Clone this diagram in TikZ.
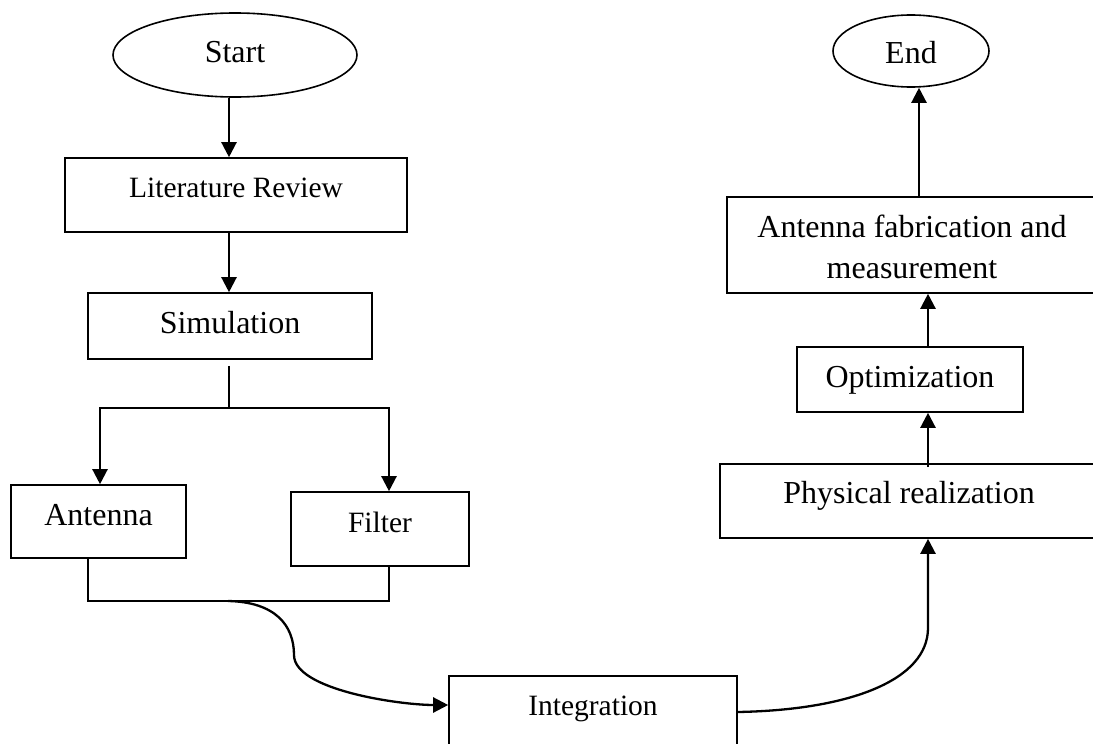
\documentclass[tikz,border=0pt]{standalone}
\usepackage{fontspec}
\setmainfont{Liberation Serif}
\usetikzlibrary{shapes.geometric,arrows.meta}
\begin{document}
\begin{tikzpicture}[x=1pt,y=-1pt,
 box/.style={draw, line width=1.6pt, inner sep=0pt, rectangle},
 oval/.style={draw, ellipse, line width=1.6pt, inner sep=0pt},
 lbl/.style={anchor=base, inner sep=0pt, font=\fontsize{32}{38}\selectfont},
 lbls/.style={anchor=base, inner sep=0pt, font=\fontsize{29.5}{36}\selectfont},
 arr/.style={line width=2.3pt, -{Triangle[length=15pt,width=15pt]}},
 ln/.style={line width=2pt}]
\clip (0,0) rectangle (1093,744);
\fill[white] (0,0) rectangle (1093,744);

% shapes
\node[oval, minimum width=244pt, minimum height=84pt] (start) at (235,55) {};
\node[lbl] (startT) at (235,62) {Start};
\node[box, minimum width=342pt, minimum height=74pt] (lit) at (236,195) {};
\node[lbls] (litT) at (236,197) {Literature Review};
\node[box, minimum width=284pt, minimum height=66pt] (sim) at (230,326) {};
\node[lbl] (simT) at (230,333) {Simulation};
\node[box, minimum width=175pt, minimum height=73pt] (ant) at (98.5,521.5) {};
\node[lbl] (antT) at (98.5,525) {Antenna};
\node[box, minimum width=178pt, minimum height=74pt] (fil) at (380,529) {};
\node[lbls] (filT) at (380,532) {Filter};
\node[box, minimum width=288pt, minimum height=88pt] (int) at (593,720) {};
\node[lbls] (intT) at (593,715) {Integration};
\node[box, minimum width=378pt, minimum height=74pt] (phy) at (909,501) {};
\node[lbl] (phyT) at (909,503) {Physical realization};
\node[box, minimum width=226pt, minimum height=65pt] (opt) at (910,379.5) {};
\node[lbl] (optT) at (910,387) {Optimization};
\node[box, minimum width=371pt, minimum height=96pt] (fab) at (912.5,245) {};
\node[lbl] (fabT1) at (912,237) {Antenna fabrication and};
\node[lbl] (fabT2) at (912,278) {measurement};
\node[oval, minimum width=156pt, minimum height=72pt] (end) at (911,51) {};
\node[lbl] (endT) at (911,63) {End};

\coordinate (split) at (229,408);
\coordinate (merge) at (228,601);

% connectors
\draw[arr] ([xshift=-6pt]start.south) -- ([xshift=-6pt]start.south |- lit.north);
\draw[arr] ([xshift=-7pt]lit.south) -- ([xshift=-7pt]lit.south |- sim.north);
\draw[ln] ([xshift=-1pt,yshift=-6pt]sim.south) -- (split);
\draw[arr] (split) -| ([xshift=1.5pt]ant.north);
\draw[arr] (split) -| ([xshift=9pt]fil.north);
\draw[ln] ([xshift=-10.5pt]ant.south) -- ++(0,42) -| ([xshift=9pt]fil.south);
\draw[arr] (merge) .. controls (275,602) and (294,625) .. (294,655)
  .. controls (294,690) and (400,705) .. ([yshift=15pt]int.west);
\draw[arr] ([yshift=8pt]int.east) .. controls (850,710) and (928,680) .. (928,628)
  -- ([xshift=19pt]phy.south);
\draw[arr] ([xshift=19pt,yshift=-4pt]phy.north) -- ([xshift=19pt]phy.north |- opt.south);
\draw[arr] ([xshift=18pt]opt.north) -- ([xshift=18pt]opt.north |- fab.south);
\draw[arr] ([xshift=6.5pt]fab.north) -- ([xshift=6.5pt]fab.north |- end.south);
\end{tikzpicture}
\end{document}
